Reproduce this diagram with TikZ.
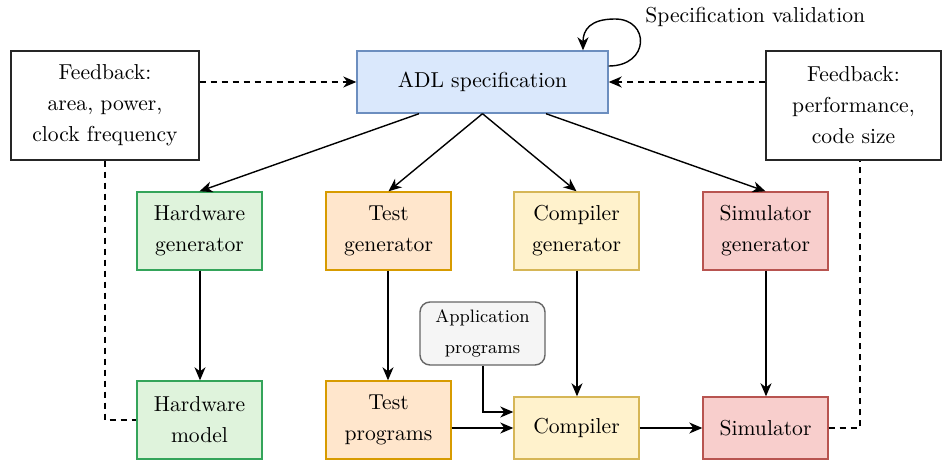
\documentclass[tikz,border=0pt]{standalone}
\usetikzlibrary{arrows.meta,calc}
\definecolor{adlfill}{HTML}{DAE8FC}
\definecolor{adldraw}{HTML}{6C8EBF}
\definecolor{hwfill}{HTML}{DFF3DC}
\definecolor{hwdraw}{HTML}{34A45A}
\definecolor{tgfill}{HTML}{FFE6CC}
\definecolor{tgdraw}{HTML}{D79B00}
\definecolor{cgfill}{HTML}{FFF2CC}
\definecolor{cgdraw}{HTML}{D6B656}
\definecolor{sgfill}{HTML}{F8CECC}
\definecolor{sgdraw}{HTML}{B85450}
\definecolor{appfill}{HTML}{F5F5F5}
\definecolor{appdraw}{HTML}{666666}
\begin{document}
\begin{tikzpicture}[x=0.5pt,y=-0.5pt,
  every node/.style={font=\fontsize{10.8}{15.5}\selectfont, align=center, inner sep=0pt},
  box/.style={draw, line width=0.7pt, minimum width=62.5pt, minimum height=39pt},
  lowbox/.style={box, minimum height=31pt},
  fb/.style={draw=black!85, line width=0.7pt, minimum height=54.5pt},
  arr/.style={-{Stealth[length=6.5pt,width=5.5pt,inset=2pt]}, line width=0.7pt},
  dsh/.style={dashed, dash pattern=on 3pt off 2.5pt, line width=0.7pt}]
\useasboundingbox (0,0) rectangle (942,460);

% specification and feedback boxes
\node[box, fill=adlfill, draw=adldraw, minimum width=125.5pt, minimum height=31pt] (adl) at (482.5,82) {ADL specification};
\node[fb, minimum width=94pt] (fbl) at (105,105.5) {Feedback:\\area, power,\\clock frequency};
\node[fb, minimum width=87.5pt] (fbr) at (853.5,105.5) {Feedback:\\performance,\\code size};

% generators
\node[box, fill=hwfill, draw=hwdraw] (hwg) at (199.5,231) {Hardware\\generator};
\node[box, fill=tgfill, draw=tgdraw] (tg) at (388.5,231) {Test\\generator};
\node[box, fill=cgfill, draw=cgdraw] (cg) at (576.5,231) {Compiler\\generator};
\node[box, fill=sgfill, draw=sgdraw] (sg) at (765.5,231) {Simulator\\generator};

% application programs
\node[draw=appdraw, fill=appfill, line width=0.7pt, rounded corners=5pt,
      minimum width=62.5pt, minimum height=31.5pt,
      font=\fontsize{9}{15.5}\selectfont] (app) at (482.5,333.5) {Application\\programs};

% generated artefacts
\node[box, fill=hwfill, draw=hwdraw] (hwm) at (199.5,420) {Hardware\\model};
\node[box, fill=tgfill, draw=tgdraw] (tp) at (388.5,420) {Test\\programs};
\node[lowbox, fill=cgfill, draw=cgdraw] (comp) at (576.5,428) {Compiler};
\node[lowbox, fill=sgfill, draw=sgdraw] (sim) at (765.5,428) {Simulator};

% validation loop
\draw[arr] ([yshift=8pt]adl.east) .. controls (650,66) and (650,19) .. (615,19)
  .. controls (590,19) and (583,30) .. ([xshift=50.25pt]adl.north);
\node[anchor=west] (val) at (645,17) {Specification validation};

% feedback
\draw[arr, dsh] (fbl.east |- adl.west) -- (adl.west);
\draw[arr, dsh] (fbr.west |- adl.east) -- (adl.east);
\draw[dsh] (fbl.south) |- (hwm.west);
\draw[dsh] (sim.east) -| ([xshift=3.25pt]fbr.south);

% generation
\draw[arr] ([xshift=-31.75pt]adl.south) -- (hwg.north);
\draw[arr] (adl.south) -- (tg.north);
\draw[arr] (adl.south) -- (cg.north);
\draw[arr] ([xshift=31.75pt]adl.south) -- (sg.north);

\draw[arr] ([xshift=0.25pt]hwg.south) -- ([xshift=0.25pt]hwm.north);
\draw[arr] ([xshift=-0.25pt]tg.south) -- ([xshift=-0.25pt]tp.north);
\draw[arr] ([xshift=0.25pt]cg.south) -- ([xshift=0.25pt]comp.north);
\draw[arr] ([xshift=0.25pt]sg.south) -- ([xshift=0.25pt]sim.north);

\draw[arr] ([xshift=0.25pt]app.south) |- ([yshift=8pt]comp.west);
\draw[arr] (tp.east |- comp.west) -- (comp.west);
\draw[arr] (comp) -- (sim);
\end{tikzpicture}
\end{document}
